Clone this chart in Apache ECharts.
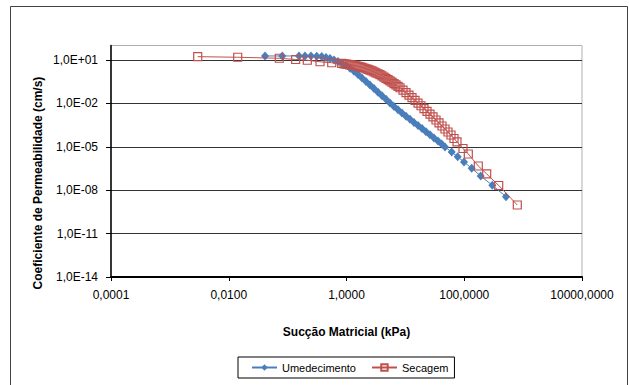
<!DOCTYPE html>
<html>
<head>
<meta charset="utf-8">
<script src="https://cdn.jsdelivr.net/npm/echarts@6/dist/echarts.min.js"></script>
<style>
  html, body { margin: 0; padding: 0; background: #fff; }
  #chart { width: 629px; height: 385px; }
</style>
</head>
<body>
<div id="chart"></div>
<script>
// ---- data ----
const seriesNames = ['Umedecimento', 'Secagem'];

// Umedecimento: suction (kPa) and permeability (cm/s)
const umedX = [0.0413, 0.0812, 0.156, 0.197, 0.249, 0.312, 0.379, 0.449, 0.525, 0.614,
  0.717, 0.839, 0.981, 1.147, 1.341, 1.568, 1.833, 2.143, 2.506, 2.93,
  3.43, 4.01, 4.69, 5.48, 6.41, 7.49, 8.76, 10.25, 11.98, 14.0,
  16.4, 19.2, 22.4, 26.2, 30.6, 35.8, 41.4, 47.1, 61.2, 77.4,
  99.0, 133.8, 190.3, 299.5, 512];
const umedY = [18.9, 18.9, 18.9, 18.9, 18.9, 18.3, 17.2, 15.1, 12.7, 10,
  7.75, 5.73, 4.10, 2.71, 1.68, 0.995, 0.570, 0.327, 0.187, 0.105,
  0.0594, 0.0335, 0.0189, 0.01066, 0.00611, 0.00361, 0.00217, 0.0013, 7.96e-4, 4.86e-4,
  2.97e-4, 1.81e-4, 1.11e-4, 6.75e-5, 4.12e-5, 2.52e-5, 1.56e-5, 9.69e-6, 4.37e-6, 2.04e-6,
  8.9e-7, 3.27e-7, 9.59e-8, 2.18e-8, 3.56e-9];

// Secagem: suction (kPa) and permeability (cm/s)
const secX = [0.00297, 0.01419, 0.0722, 0.137, 0.216, 0.355, 0.561, 0.829,
  0.907, 0.981, 1.061, 1.147, 1.240, 1.341, 1.450, 1.568, 1.696, 1.833,
  1.983, 2.144, 2.318, 2.506, 2.711, 2.931, 3.170, 3.428, 3.707, 4.009,
  4.334, 4.687, 5.069, 5.481, 5.927, 6.409, 6.930, 7.493, 8.103,
  9.114, 10.25, 11.52, 12.96, 14.57, 16.39, 18.43, 20.72, 23.30, 26.20,
  29.47, 33.13, 37.25, 41.90, 47.10, 52.97, 59.56, 66.97, 75.31,
  95.2, 117.2, 173.2, 240.6, 384.7, 796];
const secY = [16.9, 15.4, 13.1, 10.8, 9.53, 7.51, 6.40, 5.73,
  5.42, 5.17, 4.92, 4.70, 4.47, 4.17, 3.90, 3.64, 3.40, 3.10,
  2.78, 2.48, 2.22, 1.99, 1.745, 1.502, 1.293, 1.114, 0.959, 0.805,
  0.659, 0.539, 0.441, 0.361, 0.292, 0.234, 0.187, 0.150, 0.120,
  0.0823, 0.0553, 0.0372, 0.0248, 0.0161, 0.0105, 0.00683, 0.00440, 0.00283, 0.00183,
  0.00115, 7.12e-4, 4.42e-4, 2.74e-4, 1.70e-4, 1.055e-4, 6.54e-5, 3.75e-5, 2.15e-5,
  7.63e-6, 3.18e-6, 4.71e-7, 1.32e-7, 2.11e-8, 9.49e-10];

// axes
const xMin = 1e-4, xMax = 1e4;
const yMin = 1e-14, yMax = 1e2;
const xTitle = 'Sucção Matricial (kPa)';
const yTitle = 'Coeficiente de Permeabilidade (cm/s)';

const FONT = '"Liberation Sans", Arial, sans-serif';

function pairs(xs, ys) { return xs.map((x, i) => [x, ys[i]]); }

function fmtX(v) {
  return Number(v).toFixed(4).replace('.', ',');
}
function fmtY(v) {
  const e = Math.round(Math.log10(v));
  const a = Math.abs(e);
  return '1,0E' + (e < 0 ? '-' : '+') + (a < 10 ? '0' + a : '' + a);
}

const chart = echarts.init(document.getElementById('chart'), null, { renderer: 'svg' });

chart.setOption({
  animation: false,
  backgroundColor: '#fff',
  textStyle: { fontFamily: FONT },
  grid: {
    left: 111, top: 45.5, right: 47, bottom: 108,
    show: true, borderColor: '#b0b0b0', borderWidth: 1, backgroundColor: '#fff'
  },
  legend: {
    data: seriesNames,
    left: 238, top: 357,
    orient: 'horizontal',
    borderColor: '#000', borderWidth: 1, borderRadius: 0,
    padding: [5, 6, 5, 13],
    itemGap: 15, itemWidth: 25, itemHeight: 8,
    textStyle: { fontSize: 11, color: '#000', fontFamily: FONT }
  },
  xAxis: {
    type: 'log', logBase: 10,
    min: xMin, max: xMax, interval: 2,
    name: xTitle, nameLocation: 'middle', nameGap: 49,
    nameTextStyle: { fontSize: 12, fontWeight: 'bold', color: '#000', fontFamily: FONT },
    axisLine: { show: true, lineStyle: { color: '#000', width: 2 } },
    axisTick: { show: true, inside: false, length: 4, lineStyle: { color: '#000' } },
    axisLabel: { formatter: fmtX, fontSize: 12, color: '#000', margin: 12, fontFamily: FONT,
      showMinLabel: true, showMaxLabel: true },
    splitLine: { show: false },
    minorTick: { show: false }
  },
  yAxis: {
    type: 'log', logBase: 10,
    min: yMin, max: yMax, interval: 3,
    axisLine: { show: true, lineStyle: { color: '#000', width: 1.5 } },
    axisTick: { show: true, inside: false, length: 5, lineStyle: { color: '#000' } },
    axisLabel: { formatter: fmtY, fontSize: 12, color: '#000', margin: 13, fontFamily: FONT,
      showMinLabel: true, showMaxLabel: false },
    splitLine: { show: true, showMinLine: false, showMaxLine: false, lineStyle: { color: '#333', width: 1 } },
    minorTick: { show: false }
  },
  graphic: [
    {
      type: 'rect', silent: true, z: -10,
      shape: { x: 10.5, y: 6.5, width: 617, height: 400 },
      style: { fill: 'none', stroke: '#444', lineWidth: 1 }
    },
    {
      type: 'text', silent: true,
      x: 38, y: 183, rotation: Math.PI / 2,
      style: {
        text: yTitle,
        font: 'bold 12px ' + FONT,
        fill: '#000',
        textAlign: 'center', textVerticalAlign: 'middle',
        align: 'center', verticalAlign: 'middle'
      }
    }
  ],
  series: [
    {
      name: seriesNames[0], type: 'line',
      data: pairs(umedX, umedY),
      symbol: 'diamond', symbolSize: [8, 9], showAllSymbol: true,
      lineStyle: { color: '#4A7EBB', width: 1 },
      itemStyle: { color: '#4A7EBB' },
      z: 2
    },
    {
      name: seriesNames[1], type: 'line',
      data: pairs(secX, secY),
      symbol: 'rect', symbolSize: 8, showAllSymbol: true,
      lineStyle: { color: '#C0504D', width: 1 },
      itemStyle: { color: 'rgba(255,255,255,0)', borderColor: '#C0504D', borderWidth: 1.2 },
      z: 3
    }
  ]
});
</script>
</body>
</html>
